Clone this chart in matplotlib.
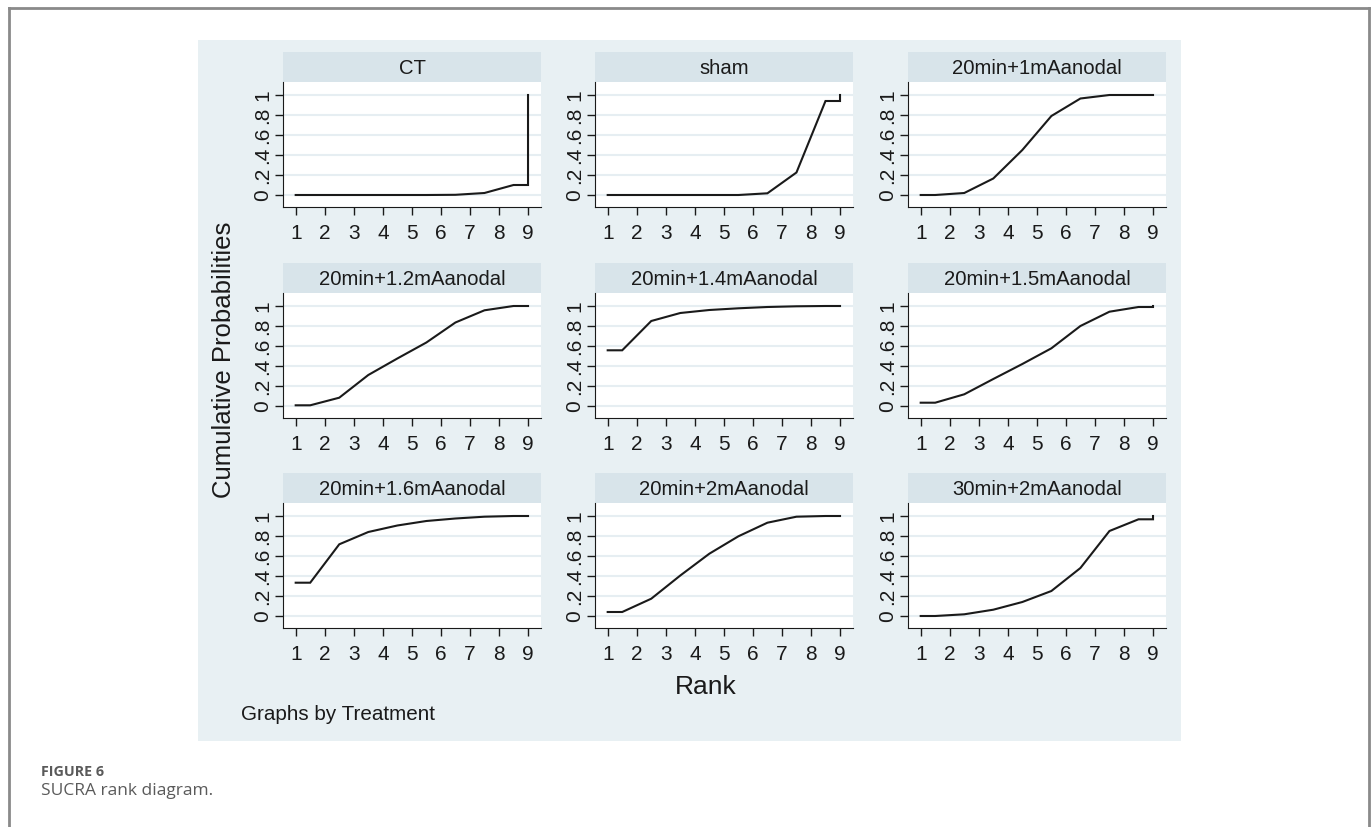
import matplotlib.pyplot as plt
from matplotlib.patches import Rectangle
from matplotlib.lines import Line2D

plt.rcParams['font.family'] = ['Liberation Sans', 'DejaVu Sans']

# cumulative probability of being ranked k or better, k = 1..9
treatments = ['CT', 'sham', '20min+1mAanodal',
              '20min+1.2mAanodal', '20min+1.4mAanodal', '20min+1.5mAanodal',
              '20min+1.6mAanodal', '20min+2mAanodal', '30min+2mAanodal']
ranks = [1, 2, 3, 4, 5, 6, 7, 8, 9]
ct = [0.0, 0.0, 0.0, 0.0, 0.0, 0.002, 0.02, 0.10, 1.0]
sham = [0.0, 0.0, 0.0, 0.0, 0.0, 0.017, 0.225, 0.94, 1.0]
a20_10 = [0.0, 0.02, 0.165, 0.45, 0.79, 0.965, 1.0, 1.0, 1.0]
a20_12 = [0.007, 0.083, 0.31, 0.475, 0.635, 0.835, 0.957, 1.0, 1.0]
a20_14 = [0.557, 0.85, 0.93, 0.96, 0.977, 0.99, 0.997, 1.0, 1.0]
a20_15 = [0.033, 0.117, 0.27, 0.42, 0.577, 0.80, 0.943, 0.99, 1.0]
a20_16 = [0.333, 0.717, 0.84, 0.905, 0.95, 0.975, 0.993, 1.0, 1.0]
a20_20 = [0.04, 0.173, 0.405, 0.623, 0.797, 0.933, 0.993, 1.0, 1.0]
a30_20 = [0.0, 0.017, 0.063, 0.14, 0.25, 0.48, 0.85, 0.967, 1.0]
cumprobs = [ct, sham, a20_10, a20_12, a20_14, a20_15, a20_16, a20_20, a30_20]
yticks = [0, 0.2, 0.4, 0.6, 0.8, 1]
ytick_labels = ['0', '.2', '.4', '.6', '.8', '1']

W, H = 1372, 827
fig = plt.figure(figsize=(W / 100, H / 100), dpi=100)


def rect(l, t, w, h):
    return [l / W, 1 - (t + h) / H, w / W, h / H]


# outer frame of the page and the graph region background
fig.add_artist(Line2D([8.5 / W, 8.5 / W], [0, 1 - 7.5 / H], transform=fig.transFigure, color='#8a8a8a', lw=2))
fig.add_artist(Line2D([8.5 / W, 1369 / W], [1 - 7.5 / H, 1 - 7.5 / H], transform=fig.transFigure, color='#8a8a8a', lw=2))
fig.add_artist(Line2D([1369 / W, 1369 / W], [0, 1 - 7.5 / H], transform=fig.transFigure, color='#8a8a8a', lw=2))
fig.add_artist(Rectangle((198 / W, 1 - 741 / H), (1181 - 198) / W, (741 - 40) / H,
                         transform=fig.transFigure, facecolor='#e8f0f3', edgecolor='none', zorder=0))

col_left = [283, 595, 908]
row_top = [52, 263, 473]
pw, strip_h, plot_h = 258, 30, 125

for i, (name, cp) in enumerate(zip(treatments, cumprobs)):
    r, c = divmod(i, 3)
    l, t = col_left[c], row_top[r]

    sax = fig.add_axes(rect(l, t, pw, strip_h))
    sax.set_facecolor('#d8e4ea')
    sax.set_xticks([])
    sax.set_yticks([])
    for s in sax.spines.values():
        s.set_visible(False)
    sax.text(0.5, 0.45, name, ha='center', va='center', fontsize=14.6, color='#1a1a1a', transform=sax.transAxes)

    ax = fig.add_axes(rect(l, t + strip_h, pw, plot_h))
    ax.set_facecolor('white')
    xs = [ranks[0]] + [k + 0.5 for k in ranks[:-1]] + [ranks[-1], ranks[-1]]
    ys = [cp[0]] + cp[:-1] + [cp[-2], cp[-1]]
    ax.plot(xs, ys, color='#1a1a1a', lw=1.5, solid_joinstyle='miter')
    ax.set_xlim(0.563, 9.447)
    ax.set_ylim(-0.12, 1.13)
    ax.set_xticks(ranks)
    ax.set_yticks(yticks)
    ax.set_yticklabels(ytick_labels, rotation=90, va='center')
    for y in yticks:
        ax.axhline(y, color='#e6eef2', lw=1.5, zorder=0)
    ax.spines['top'].set_visible(False)
    ax.spines['right'].set_visible(False)
    ax.spines['left'].set_color('#1a1a1a')
    ax.spines['bottom'].set_color('#1a1a1a')
    ax.tick_params(axis='both', direction='out', length=6, width=1, labelsize=15, colors='#1a1a1a')
    ax.tick_params(axis='x', pad=6)
    ax.tick_params(axis='y', pad=2)

fig.text(224 / W, 1 - 360 / H, 'Cumulative Probabilities', rotation=90, ha='center', va='center',
         fontsize=18.5, color='#1a1a1a')
fig.text(706 / W, 1 - 687 / H, 'Rank', ha='center', va='center', fontsize=19, color='#1a1a1a')
fig.text(241 / W, 1 - 715 / H, 'Graphs by Treatment', ha='left', va='center', fontsize=14.9, color='#1a1a1a')

fig.text(41 / W, 1 - 772 / H, 'FIGURE 6', ha='left', va='center', fontsize=10.3, fontweight='bold',
         color='#5a5a5a', family=['Open Sans', 'DejaVu Sans'])
fig.text(41 / W, 1 - 791 / H, 'SUCRA rank diagram.', ha='left', va='center', fontsize=12.5,
         color='#5a5a5a', family=['Open Sans', 'DejaVu Sans'])

fig.savefig('out.png', dpi=100)
